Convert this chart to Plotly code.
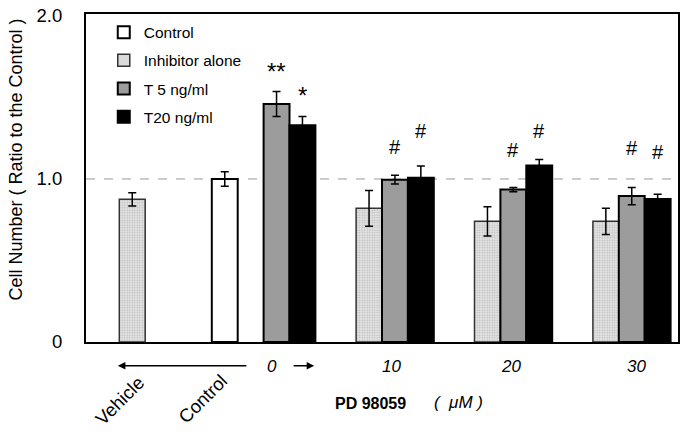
import plotly.graph_objects as go

# ---- data ----
x_pos = [0, 1, 2, 3, 4]            # group positions: Vehicle, Control/0, 10, 20, 30
control_vals = [None, 1.00, None, None, None]
control_err = [0, 0.045, 0, 0, 0]
inhib_vals = [0.875, None, 0.82, 0.74, 0.74]
inhib_err = [0.04, 0, 0.11, 0.09, 0.08]
t5_vals = [None, 1.46, 0.996, 0.935, 0.895]
t5_err = [0, 0.077, 0.027, 0.013, 0.053]
t20_vals = [None, 1.33, 1.008, 1.083, 0.877]
t20_err = [0, 0.053, 0.071, 0.036, 0.03]

# significance marks
sig_text = ["**", "*", "#", "#", "#", "#", "#", "#"]
sig_x = [1.109, 1.328, 2.109, 2.328, 3.109, 3.328, 4.109, 4.328]
sig_y = [1.66, 1.51, 1.194, 1.297, 1.176, 1.297, 1.188, 1.164]

dose_labels = ["0", "10", "20", "30"]
dose_x = [1.074, 2.076, 3.086, 4.146]

FONT = "Arial, Liberation Sans, sans-serif"

def errs(e, color="black"):
    return dict(type="data", array=e, visible=True, color=color, thickness=1.5, width=4)

fig = go.Figure()
fig.add_trace(go.Bar(x=x_pos, y=control_vals, name="Control", legendgroup="a",
                     marker=dict(color="white", line=dict(color="black", width=2)),
                     error_y=errs(control_err)))
fig.add_trace(go.Bar(x=x_pos, y=inhib_vals, name="Inhibitor alone", legendgroup="b",
                     marker=dict(color="#e4e4e4", line=dict(color="#333333", width=1.5),
                                 pattern=dict(shape=".", fgcolor="#8a8a8a", bgcolor="#e4e4e4",
                                              size=2.5, solidity=0.3)),
                     error_y=errs(inhib_err)))
fig.add_trace(go.Bar(x=x_pos, y=t5_vals, name="T 5 ng/ml", legendgroup="c",
                     marker=dict(color="#9c9c9c", line=dict(color="black", width=2)),
                     error_y=errs(t5_err)))
fig.add_trace(go.Bar(x=x_pos, y=t20_vals, name="T20 ng/ml", legendgroup="d",
                     marker=dict(color="black", line=dict(color="black", width=2)),
                     error_y=errs(t20_err)))

annotations = []
for t, xx, yy in zip(sig_text, sig_x, sig_y):
    annotations.append(dict(x=xx, y=yy, xref="x", yref="y", text=t, showarrow=False,
                            xanchor="center", yanchor="middle",
                            font=dict(size=24 if "*" in t else 20, color="black", family=FONT)))
for t, xx in zip(dose_labels, dose_x):
    annotations.append(dict(x=xx, y=-0.0753, xref="x", yref="paper", text="<i>%s</i>" % t,
                            xanchor="center", yanchor="middle",
                            showarrow=False, font=dict(size=17, color="black", family=FONT)))
annotations += [
    dict(x=-0.1178, y=0.557, xref="paper", yref="paper", text="Cell Number ( Ratio to the Control )",
         textangle=-90, xanchor="center", yanchor="middle", showarrow=False,
         font=dict(size=18, color="black", family=FONT)),
    dict(x=-0.214, y=-0.1787, xref="x", yref="paper", text="Vehicle", textangle=-45,
         xanchor="center", yanchor="middle",
         showarrow=False, font=dict(size=18.5, color="black", family=FONT)),
    dict(x=0.49, y=-0.1727, xref="x", yref="paper", text="Control", textangle=-45,
         xanchor="center", yanchor="middle",
         showarrow=False, font=dict(size=18.5, color="black", family=FONT)),
    dict(x=1.899, y=-0.1867, xref="x", yref="paper", text="<b>PD 98059</b>", showarrow=False,
         xanchor="center", yanchor="middle",
         font=dict(size=16, color="black", family=FONT)),
    dict(x=2.648, y=-0.1837, xref="x", yref="paper", text="<i>(  μM )</i>", showarrow=False,
         xanchor="center", yanchor="middle",
         font=dict(size=17, color="black", family=FONT)),
    dict(x=-0.231, y=-0.0723, xref="x", yref="paper", ax=130, ay=0, text="", showarrow=True,
         arrowhead=2, arrowsize=1, arrowwidth=1.5, arrowcolor="black"),
    dict(x=1.427, y=-0.0723, xref="x", yref="paper", ax=-22, ay=0, text="", showarrow=True,
         arrowhead=2, arrowsize=1, arrowwidth=1.5, arrowcolor="black"),
]

fig.update_layout(
    width=685, height=437,
    margin=dict(l=86, r=5, t=10, b=95),
    paper_bgcolor="white", plot_bgcolor="white",
    barmode="group", bargap=0.125, bargroupgap=0,
    font=dict(family=FONT, color="black"),
    showlegend=True,
    legend=dict(x=0.03, y=0.995, xanchor="left", yanchor="top", bgcolor="rgba(0,0,0,0)",
                font=dict(size=15.5, color="black", family=FONT), tracegroupgap=5),
    annotations=annotations,
    shapes=[dict(type="line", xref="paper", yref="y", x0=0, x1=1, y0=1, y1=1,
                 line=dict(color="#999999", width=1, dash="dash"), layer="below")],
)
fig.update_xaxes(range=[-0.5, 4.5], showticklabels=False, showgrid=False, zeroline=False,
                 showline=True, mirror=True, linecolor="black", linewidth=2, ticks="")
fig.update_yaxes(range=[0, 2.012], tickvals=[0, 1, 2], ticktext=["0", "1.0", "2.0"],
                 showgrid=False, zeroline=False, showline=True, mirror=True, linecolor="black",
                 linewidth=2, ticks="", ticklabelstandoff=18,
                 tickfont=dict(size=18.5, color="black", family=FONT))

fig.write_html("out.html", config={"displayModeBar": False},
               post_script="document.body.style.margin='0';")
